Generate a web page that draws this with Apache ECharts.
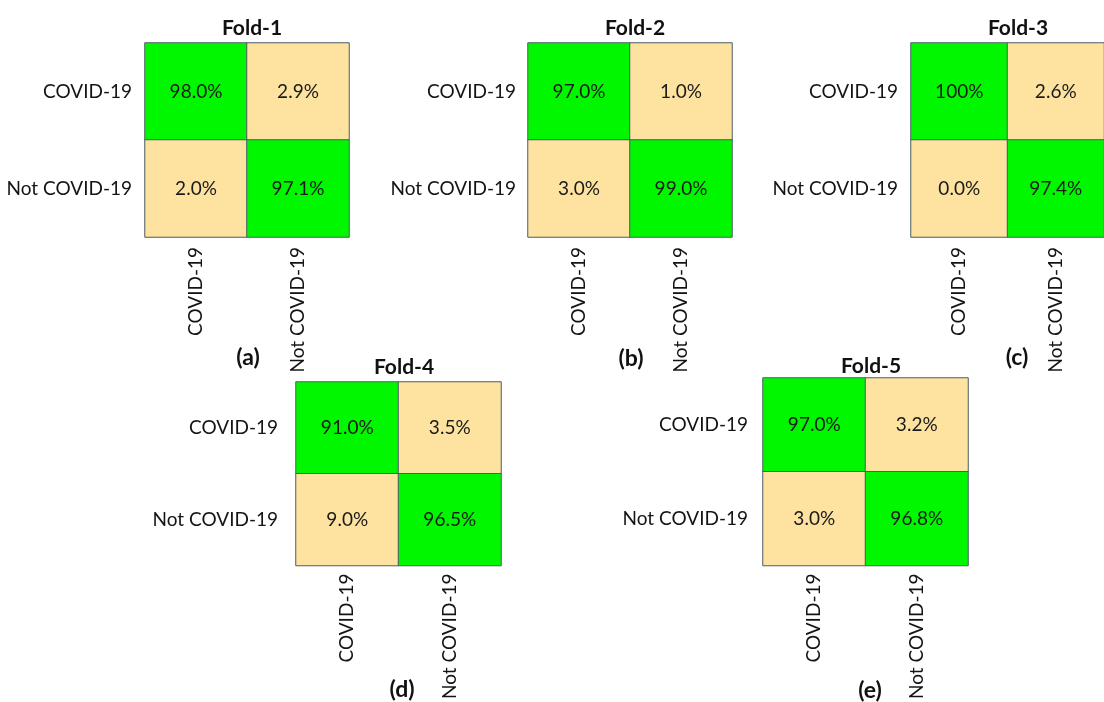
<!DOCTYPE html>
<html>
<head>
<meta charset="utf-8">
<script src="https://cdn.jsdelivr.net/npm/echarts@6/dist/echarts.min.js"></script>
<style>
  html, body { margin: 0; padding: 0; background: #ffffff; }
  #chart { width: 1104px; height: 702px; }
</style>
</head>
<body>
<div id="chart"></div>
<script>
// Class names shared by every confusion matrix (rows: predicted, columns: actual)
const classLabels = ['COVID-19', 'Not COVID-19'];

// Fold titles and panel tags
const foldNames = ['Fold-1', 'Fold-2', 'Fold-3', 'Fold-4', 'Fold-5'];
const panelTags = ['(a)', '(b)', '(c)', '(d)', '(e)'];

// Percentages per fold, row by row
const fold1 = [[98.0, 2.9], [2.0, 97.1]];
const fold2 = [[97.0, 1.0], [3.0, 99.0]];
const fold3 = [[100, 2.6], [0.0, 97.4]];
const fold4 = [[91.0, 3.5], [9.0, 96.5]];
const fold5 = [[97.0, 3.2], [3.0, 96.8]];
const foldValues = [fold1, fold2, fold3, fold4, fold5];

// Panel layout: grid box, label margins, title and tag anchors
const panels = [
  { left: 145, top: 43, width: 204, height: 194, yMargin: 13, xMargin: 10, titleX: 247, titleY: 13, tagX: 243, tagY: 341 },
  { left: 528, top: 43, width: 204, height: 194, yMargin: 12, xMargin: 10, titleX: 630, titleY: 13, tagX: 626, tagY: 342 },
  { left: 911, top: 43, width: 204, height: 194, yMargin: 13, xMargin: 10, titleX: 1013, titleY: 13, tagX: 1012, tagY: 341 },
  { left: 296, top: 382, width: 205, height: 192, yMargin: 18, xMargin: 8, titleX: 399, titleY: 352, tagX: 397, tagY: 673 },
  { left: 763, top: 378, width: 205, height: 193, yMargin: 15, xMargin: 8, titleX: 866, titleY: 351, tagX: 865, tagY: 674 }
];

const GREEN = '#00f700';
const TAN = '#fde2a0';
const BORDER = '#4b5e66';
const FONT = 'Lato';

function fmt(v) {
  return v === 100 ? '100%' : v.toFixed(1) + '%';
}

const grid = [], xAxis = [], yAxis = [], series = [], title = [];

panels.forEach((p, i) => {
  grid.push({ left: p.left, top: p.top, width: p.width, height: p.height });
  xAxis.push({
    type: 'category', gridIndex: i, data: classLabels,
    axisLine: { show: false }, axisTick: { show: false }, splitLine: { show: false },
    axisLabel: { rotate: 90, margin: p.xMargin, fontFamily: FONT, fontSize: 19, color: '#141414' }
  });
  yAxis.push({
    type: 'category', gridIndex: i, data: classLabels, inverse: true,
    axisLine: { show: false }, axisTick: { show: false }, splitLine: { show: false },
    axisLabel: { margin: p.yMargin, fontFamily: FONT, fontSize: 19, color: '#141414' }
  });
  const cells = [];
  foldValues[i].forEach((row, r) => {
    row.forEach((v, c) => {
      cells.push({
        value: [c, r, v],
        itemStyle: { color: r === c ? GREEN : TAN }
      });
    });
  });
  series.push({
    type: 'heatmap', xAxisIndex: i, yAxisIndex: i, data: cells,
    itemStyle: { borderColor: BORDER, borderWidth: 1 },
    label: {
      show: true, fontFamily: FONT, fontSize: 19, color: '#1a1a1a',
      formatter: (d) => fmt(d.value[2])
    },
    emphasis: { disabled: true }
  });
  title.push({
    text: foldNames[i], left: p.titleX, top: p.titleY, textAlign: 'center',
    textStyle: { fontFamily: FONT, fontSize: 21, fontWeight: 'bold', color: '#111' }
  });
  title.push({
    text: panelTags[i], left: p.tagX, top: p.tagY, textAlign: 'center',
    textStyle: { fontFamily: FONT, fontSize: 23, fontWeight: 'bold', color: '#111' }
  });
});

const chart = echarts.init(document.getElementById('chart'), null, { renderer: 'canvas' });
chart.setOption({
  backgroundColor: '#ffffff',
  animation: false,
  title, grid, xAxis, yAxis, series
});
</script>
</body>
</html>
